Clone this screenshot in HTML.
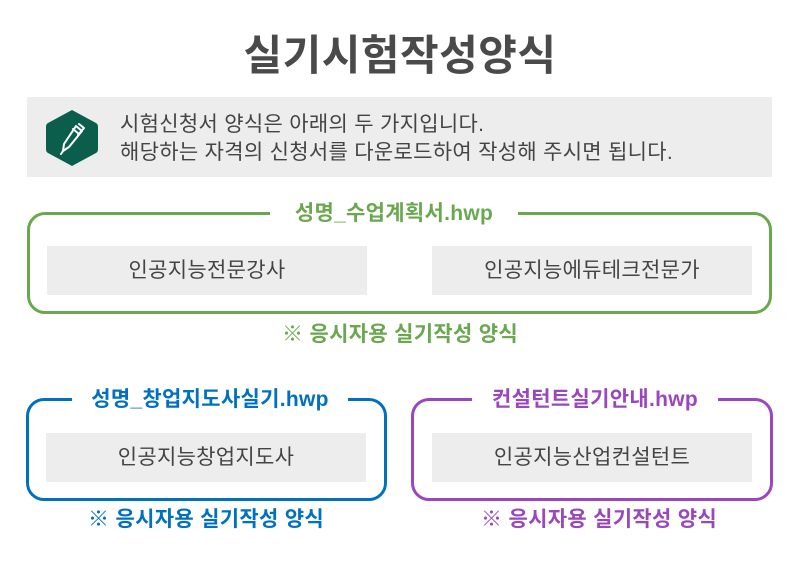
<!DOCTYPE html>
<html><head><meta charset="utf-8"><style>
*{margin:0;padding:0;box-sizing:border-box}
body{width:800px;height:561px;background:#fff;position:relative;overflow:hidden;font-family:"Liberation Sans","Noto Sans CJK KR",sans-serif;color:#444}
.a{position:absolute}
.t{left:0;width:800px;top:29px;text-align:center;font-size:42px;font-weight:bold;color:#4a4a4a;line-height:54px;letter-spacing:0.5px}
.info{left:27px;top:97px;width:745px;height:80px;background:#ededed}
.line{left:120px;font-size:21px;letter-spacing:0.3px;color:#444;white-space:nowrap;line-height:26px}
.box{border:3px solid;border-radius:18px}
.lab{background:#fff;font-size:21px;letter-spacing:0.3px;font-weight:bold;text-align:center;line-height:26px;white-space:nowrap}
.in{background:#ededed;text-align:center;font-size:21px;letter-spacing:0.3px;line-height:49px;color:#444;height:49px}
.note{font-size:21px;letter-spacing:0.3px;font-weight:bold;text-align:center;white-space:nowrap;line-height:26px}
</style></head><body>
<div class="a t">실기시험작성양식</div>
<div class="a info"></div>
<svg class="a" style="left:46px;top:109px" width="52" height="58" viewBox="0 0 52 58">
<path d="M26 1 L50 14 Q52 15 52 18 L52 40 Q52 43 50 44 L26 57 L2 44 Q0 43 0 40 L0 18 Q0 15 2 14 Z" fill="#0a5e4b"/>
<g stroke="#fff" stroke-width="2" fill="none" stroke-linecap="round" stroke-linejoin="round">
<path d="M30 17 L36 22 L23 38 L17 42 L18 35 Z"/><path d="M27 20 L33 25"/><path d="M33 15 L38 19 L32 26"/><path d="M17 42 L15 45"/></g>
</svg>
<div class="a line" style="top:112px">시험신청서 양식은 아래의 두 가지입니다.</div>
<div class="a line" style="top:140px">해당하는 자격의 신청서를 다운로드하여 작성해 주시면 됩니다.</div>

<div class="a box" style="left:27px;top:212px;width:745px;height:102px;border-color:#6aa84f"></div>
<div class="a lab" style="left:270px;top:201px;width:248px;color:#6aa84f">성명_수업계획서.hwp</div>
<div class="a in" style="left:47px;top:246px;width:320px">인공지능전문강사</div>
<div class="a in" style="left:432px;top:246px;width:320px">인공지능에듀테크전문가</div>
<div class="a note" style="left:200px;width:400px;top:322px;color:#6aa84f">※ 응시자용 실기작성 양식</div>

<div class="a box" style="left:26px;top:398px;width:361px;height:103px;border-color:#0070c0"></div>
<div class="a lab" style="left:72px;top:387px;width:276px;color:#0070c0">성명_창업지도사실기.hwp</div>
<div class="a in" style="left:46px;top:433px;width:320px">인공지능창업지도사</div>
<div class="a note" style="left:6px;width:400px;top:507px;color:#0070c0">※ 응시자용 실기작성 양식</div>

<div class="a box" style="left:411px;top:398px;width:362px;height:103px;border-color:#9a47be"></div>
<div class="a lab" style="left:472px;top:387px;width:246px;color:#9a47be">컨설턴트실기안내.hwp</div>
<div class="a in" style="left:432px;top:433px;width:320px">인공지능산업컨설턴트</div>
<div class="a note" style="left:399px;width:400px;top:507px;color:#9a47be">※ 응시자용 실기작성 양식</div>
</body></html>
